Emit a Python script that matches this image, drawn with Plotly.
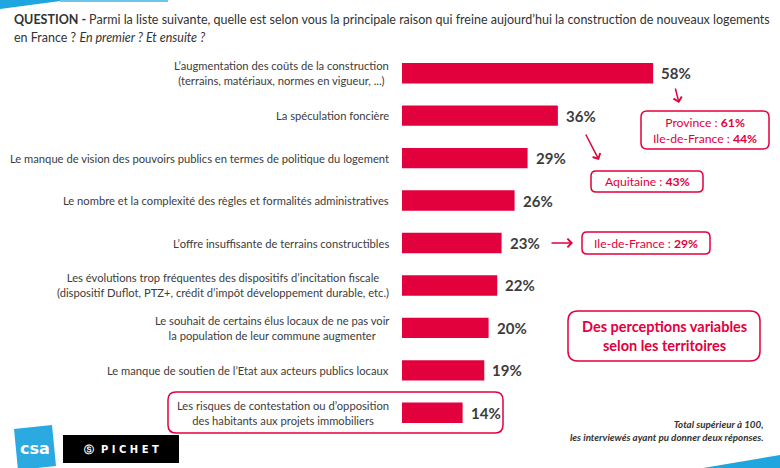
import plotly.graph_objects as go

# ---------------- data ----------------
categories = [
    "L’augmentation des coûts de la construction<br>(terrains, matériaux, normes en vigueur, ...)",
    "La spéculation foncière",
    "Le manque de vision des pouvoirs publics en termes de politique du logement",
    "Le nombre et la complexité des règles et formalités administratives",
    "L’offre insuffisante de terrains constructibles",
    "Les évolutions trop fréquentes des dispositifs d’incitation fiscale<br>(dispositif Duflot, PTZ+, crédit d’impôt développement durable, etc.)",
    "Le souhait de certains élus locaux de ne pas voir<br>la population de leur commune augmenter",
    "Le manque de soutien de l’Etat aux acteurs publics locaux",
    "Les risques de contestation ou d’opposition<br>des habitants aux projets immobiliers",
]
values = [58, 36, 29, 26, 23, 22, 20, 19, 14]

title_line1 = "<b>QUESTION - </b>Parmi la liste suivante, quelle est selon vous la principale raison qui freine aujourd’hui la construction de nouveaux logements"
title_line2 = "en France ? <i>En premier ? Et ensuite ?</i>"
box_province = "Province : <b>61%</b><br>Ile-de-France : <b>44%</b>"
box_aquitaine = "Aquitaine : <b>43%</b>"
box_idf = "Ile-de-France : <b>29%</b>"
box_perceptions = "<b>Des perceptions variables<br>selon les territoires</b>"
footnote = "<b><i>Total supérieur à 100,<br>les interviewés ayant pu donner deux réponses.</i></b>"

# ---------------- style ----------------
W, H = 780, 468
L, R, T, B = 402, 0, 52, 34
CRIMSON = "#E2003D"
TXT = "#3C3C3C"
FONT = "Lato"
PX_PER_PCT = 4.33

def px2x(px):
    return (px - L) / (W - L - R)

def px2y(py):
    return (H - B - py) / (H - T - B)

def rrect_path(x0, y0, x1, y1, r):
    pts = [
        ("M", [(x0 + r, y0)]),
        ("L", [(x1 - r, y0)]),
        ("Q", [(x1, y0), (x1, y0 + r)]),
        ("L", [(x1, y1 - r)]),
        ("Q", [(x1, y1), (x1 - r, y1)]),
        ("L", [(x0 + r, y1)]),
        ("Q", [(x0, y1), (x0, y1 - r)]),
        ("L", [(x0, y0 + r)]),
        ("Q", [(x0, y0), (x0 + r, y0)]),
    ]
    s = ""
    for cmd, ps in pts:
        s += cmd + " " + " ".join(f"{px2x(a):.5f},{px2y(b):.5f}" for a, b in ps) + " "
    return s + "Z"

def poly_path(points):
    return "M " + " L ".join(f"{px2x(a):.5f},{px2y(b):.5f}" for a, b in points) + " Z"

fig = go.Figure()
fig.add_trace(go.Bar(
    x=values, y=categories, orientation="h",
    marker=dict(color=CRIMSON, line=dict(width=0)),
    width=0.48, hoverinfo="skip",
))

annotations = []
# category labels
for c in categories:
    annotations.append(dict(
        x=0, y=c, xref="x", yref="y", text=c, showarrow=False,
        xanchor="right", yanchor="middle", align="center", xshift=-11,
        font=dict(family=FONT, size=11.2, color=TXT),
    ))
# value labels
for c, v in zip(categories, values):
    annotations.append(dict(
        x=v, y=c, xref="x", yref="y", text=f"{v}%", showarrow=False,
        xanchor="left", yanchor="middle", xshift=6,
        font=dict(family=FONT, size=15, color=TXT, weight="bold"),
    ))

# title
annotations.append(dict(x=px2x(12), y=px2y(19), xref="paper", yref="paper", text=title_line1,
                        showarrow=False, xanchor="left", yanchor="middle",
                        font=dict(family=FONT, size=12.5, color="#333333")))
annotations.append(dict(x=px2x(12), y=px2y(37), xref="paper", yref="paper", text=title_line2,
                        showarrow=False, xanchor="left", yanchor="middle",
                        font=dict(family=FONT, size=12.5, color="#333333")))

# boxed comments
def box_text(text, cx, cy, size):
    annotations.append(dict(x=px2x(cx), y=px2y(cy), xref="paper", yref="paper", text=text,
                            showarrow=False, xanchor="center", yanchor="middle", align="center",
                            font=dict(family=FONT, size=size, color=CRIMSON)))

box_text(box_province, 705, 130, 12.2)
box_text(box_aquitaine, 647, 181.5, 12.2)
box_text(box_idf, 646, 243, 12.2)
box_text(box_perceptions, 664, 336, 14.5)

# footnote
annotations.append(dict(x=px2x(766), y=px2y(430), xref="paper", yref="paper", text=footnote,
                        showarrow=False, xanchor="right", yanchor="middle", align="right",
                        font=dict(family=FONT, size=9.8, color="#333333")))

# arrows
def arrow(tx, ty, hx, hy):
    annotations.append(dict(x=px2x(hx), y=px2y(hy), xref="paper", yref="paper",
                            ax=tx - hx, ay=ty - hy, axref="pixel", ayref="pixel",
                            text="", showarrow=True, arrowhead=4, arrowsize=1.1,
                            arrowwidth=1.5, arrowcolor=CRIMSON, standoff=0, startstandoff=0))

arrow(675, 87, 679, 103)
arrow(585, 133, 599, 160)
arrow(550, 243, 573, 243)

# logos text
annotations.append(dict(x=px2x(35), y=px2y(448), xref="paper", yref="paper", text="<b>csa</b>",
                        showarrow=False, xanchor="center", yanchor="middle",
                        font=dict(family="DejaVu Sans", size=16, color="white")))
annotations.append(dict(x=px2x(121), y=px2y(449), xref="paper", yref="paper",
                        text="Ⓢ  P I C H E T",
                        showarrow=False, xanchor="center", yanchor="middle",
                        font=dict(family="DejaVu Sans", size=10, color="white", weight="bold")))

shapes = []
box_line = dict(color=CRIMSON, width=1.5)
shapes.append(dict(type="path", xref="paper", yref="paper", path=rrect_path(168, 392, 503, 433, 8), line=box_line, layer="below"))
shapes.append(dict(type="path", xref="paper", yref="paper", path=rrect_path(641, 111, 769, 149, 6), line=box_line))
shapes.append(dict(type="path", xref="paper", yref="paper", path=rrect_path(591, 171, 703, 192, 5), line=box_line))
shapes.append(dict(type="path", xref="paper", yref="paper", path=rrect_path(582, 232, 710, 254, 5), line=box_line))
shapes.append(dict(type="path", xref="paper", yref="paper", path=rrect_path(568, 311, 760, 361, 10), line=box_line))
# decorative swooshes
shapes.append(dict(type="path", xref="paper", yref="paper", path=poly_path([(0, 0), (68, 0), (0, 9)]),
                   fillcolor="#1FA6DE", line=dict(width=0)))
shapes.append(dict(type="line", xref="paper", yref="paper", x0=px2x(60), y0=px2y(1), x1=px2x(168), y1=px2y(1),
                   line=dict(color="#6CC6EC", width=2)))
shapes.append(dict(type="path", xref="paper", yref="paper", path=poly_path([(703, 468), (780, 455), (780, 468)]),
                   fillcolor="#1FA6DE", line=dict(width=0)))
# logos
shapes.append(dict(type="path", xref="paper", yref="paper", path=poly_path([(14, 429), (52, 425), (56, 466), (18, 470)]),
                   fillcolor="#2AAAE1", line=dict(width=0)))
shapes.append(dict(type="rect", xref="paper", yref="paper", x0=px2x(63), y0=px2y(435), x1=px2x(179), y1=px2y(463),
                   fillcolor="#000000", line=dict(width=0)))

fig.update_layout(
    width=W, height=H,
    margin=dict(l=L, r=R, t=T, b=B, pad=0),
    paper_bgcolor="white", plot_bgcolor="white",
    showlegend=False,
    xaxis=dict(range=[0, (W - L - R) / PX_PER_PCT], visible=False, fixedrange=True),
    yaxis=dict(categoryorder="array", categoryarray=categories, autorange="reversed",
               showticklabels=False, showgrid=False, zeroline=False, showline=False, ticks=""),
    annotations=annotations, shapes=shapes,
    font=dict(family=FONT, color=TXT),
)

fig.write_html("out.html", config={"displayModeBar": False},
               post_script="document.body.style.margin='0px';document.body.style.overflow='hidden';")
